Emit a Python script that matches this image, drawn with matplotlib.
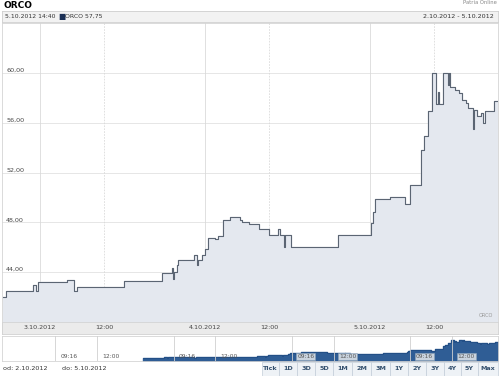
import numpy as np
import matplotlib
matplotlib.use('Agg')
from matplotlib import pyplot as plt
from matplotlib.patches import Rectangle

# trading hours since 3.10.2012 09:00 (one session = 7.75 h)
times = [-1.74, -1.60, -0.33, -0.19, -0.09, 1.27, 1.60, 1.74, 3.95, 5.73,
         6.20, 6.25, 6.29, 6.43, 6.48, 7.23, 7.37, 7.42, 7.61, 7.75,
         7.89, 8.22, 8.36, 8.60, 8.92, 9.39, 9.49, 9.82, 10.29, 10.76,
         11.18, 11.27, 11.46, 11.51, 11.79, 14.00, 15.55, 15.64, 15.74, 16.44,
         17.14, 17.38, 17.90, 18.04, 18.22, 18.41, 18.60, 18.69, 18.74, 18.93,
         19.16, 19.21, 19.26, 19.49, 19.68, 19.82, 20.01, 20.10, 20.34, 20.39,
         20.53, 20.71, 20.81, 20.90, 21.32, 21.47]
prices = [42.00, 42.45, 42.95, 42.45, 43.20, 43.35, 42.45, 42.80, 43.30, 43.95,
          44.35, 43.45, 44.00, 44.60, 44.95, 45.35, 44.55, 44.95, 45.40, 45.85,
          46.75, 46.65, 46.90, 48.20, 48.40, 48.20, 48.00, 47.90, 47.50, 47.00,
          47.45, 47.00, 46.05, 47.00, 46.00, 46.95, 47.95, 48.80, 49.90, 50.05,
          49.50, 51.00, 53.80, 54.90, 56.90, 60.00, 57.50, 58.50, 57.50, 60.00,
          59.05, 60.00, 58.90, 58.65, 58.40, 57.80, 57.60, 57.20, 55.50, 57.00,
          56.50, 56.80, 56.00, 56.90, 57.75, 57.75]

SESSION = 7.75
day_ticks = [0, SESSION, 2 * SESSION]
day_labels = ['3.10.2012', '4.10.2012', '5.10.2012']
noon_ticks = [d + 3.0 for d in day_ticks]
y_ticks = [44, 48, 52, 56, 60]
nav_days = [-SESSION, 0, SESSION, 2 * SESSION]
buttons = ['Tick', '1D', '3D', '5D', '1M', '2M', '3M', '1Y', '2Y', '3Y', '4Y', '5Y', 'Max']

W, H = 500, 376
LINE = '#5b6573'
FILL = '#e4e8ef'
GRID = '#e2e2e2'

def box(x0, y0, x1, y1):
    return [x0 / W, 1 - y1 / H, (x1 - x0) / W, (y1 - y0) / H]

fig = plt.figure(figsize=(W / 100, H / 100), dpi=100)
fig.patch.set_facecolor('white')

def fx(x):
    return x / W
def fy(y):
    return 1 - y / H

fig.text(fx(3), fy(5), 'ORCO', fontsize=6.5, fontweight='bold', va='center', ha='left')
fig.text(fx(497), fy(3), 'Patria Online', fontsize=3.8, color='#888888', va='center', ha='right')

# header bar
hb = fig.add_axes(box(2, 11, 498, 22))
hb.set_facecolor('#f2f2f2')
for s in hb.spines.values():
    s.set_color('#cfcfcf')
    s.set_linewidth(0.6)
hb.set_xticks([]); hb.set_yticks([])
fig.text(fx(5), fy(16.5), '5.10.2012 14:40', fontsize=4.4, color='#333333', va='center')
fig.text(fx(58), fy(16.5), '\u25a0', fontsize=5.5, color='#1b2f55', va='center')
fig.text(fx(65), fy(16.5), 'ORCO 57,75', fontsize=4.4, color='#333333', va='center')
fig.text(fx(494), fy(16.5), '2.10.2012 - 5.10.2012', fontsize=4.6, color='#333333',
         va='center', ha='right')

# x-label bar (added first so main tick labels lie on top)
lb = fig.add_axes(box(2, 322, 498, 334))
lb.set_facecolor('#ebebeb')
for s in lb.spines.values():
    s.set_color('#d0d0d0')
    s.set_linewidth(0.6)
lb.set_xticks([]); lb.set_yticks([])

# main chart
ax = fig.add_axes(box(2, 23, 498, 322))
ax.set_xlim(-1.785, 21.51)
ax.set_ylim(40, 64)
for s in ax.spines.values():
    s.set_color('#d4d4d4')
    s.set_linewidth(0.6)
for y in y_ticks:
    ax.axhline(y, color=GRID, lw=0.6, zorder=0)
for d in day_ticks:
    ax.axvline(d, color='#dadada', lw=0.6, zorder=0)
for n in noon_ticks:
    ax.axvline(n, color='#dadada', lw=0.6, ls=(0, (2, 1.5)), zorder=0)
ax.fill_between(times, prices, 40, step='post', color=FILL, zorder=1)
ax.step(times, prices, where='post', color=LINE, lw=0.8, zorder=2)
ax.set_yticks(y_ticks)
ax.set_yticklabels([('%.2f' % v).replace('.', ',') for v in y_ticks])
ax.tick_params(axis='y', length=0, pad=-3, labelsize=4.6, labelcolor='#444444')
for lab in ax.get_yticklabels():
    lab.set_ha('left')
    lab.set_va('bottom')
ax.set_xticks(day_ticks + noon_ticks)
ax.set_xticklabels(day_labels + ['12:00'] * 3)
ax.tick_params(axis='x', length=0, pad=2.5, labelsize=4.6, labelcolor='#444444')
ax.text(0.99, 0.012, 'ORCO', transform=ax.transAxes, fontsize=3.6, color='#999999',
        ha='right', va='bottom')

# navigator
nv = fig.add_axes(box(2, 336, 498, 361))
nv.set_xlim(-10.96, 21.5)
nv.set_ylim(39.3, 63.8)
nv.set_facecolor('white')
for s in nv.spines.values():
    s.set_color('#d4d4d4')
    s.set_linewidth(0.6)
nv.set_xticks([]); nv.set_yticks([])
nv.fill_between(times, prices, 39.3, step='post', color='#2f5d95', zorder=1)
nv.step(times, prices, where='post', color='#1f4a80', lw=0.5, zorder=2)
for i, d in enumerate(nav_days):
    for off, txt in [(0.267, '09:16'), (3.0, '12:00')]:
        nv.axvline(d + off, color='#d0d0d0', lw=0.6, zorder=3)
        kw = {}
        if d >= SESSION:
            kw['bbox'] = dict(boxstyle='square,pad=0.15', fc='#c9d3de', ec='#8fa3b8', lw=0.4)
        nv.text(d + off + 0.35, 43.5, txt, fontsize=4.3, color='#555555',
                va='center', ha='left', zorder=4, **kw)

# bottom row
fig.text(fx(3), fy(369), 'od: 2.10.2012', fontsize=4.6, color='#333333', va='center')
fig.text(fx(62), fy(369), 'do: 5.10.2012', fontsize=4.6, color='#333333', va='center')
bx = 262
bw = [17, 18, 18, 18, 19, 19, 19, 18, 18, 18, 17, 17, 20]
for name, w in zip(buttons, bw):
    fig.patches.append(Rectangle((fx(bx), fy(376)), w / W, 14 / H, transform=fig.transFigure,
                                 fc='#eef2f6', ec='#c3cdd8', lw=0.5))
    fig.text(fx(bx + w / 2), fy(369), name, fontsize=4.6, fontweight='bold',
             color='#34506e', ha='center', va='center')
    bx += w

plt.savefig('out.png', dpi=100)
